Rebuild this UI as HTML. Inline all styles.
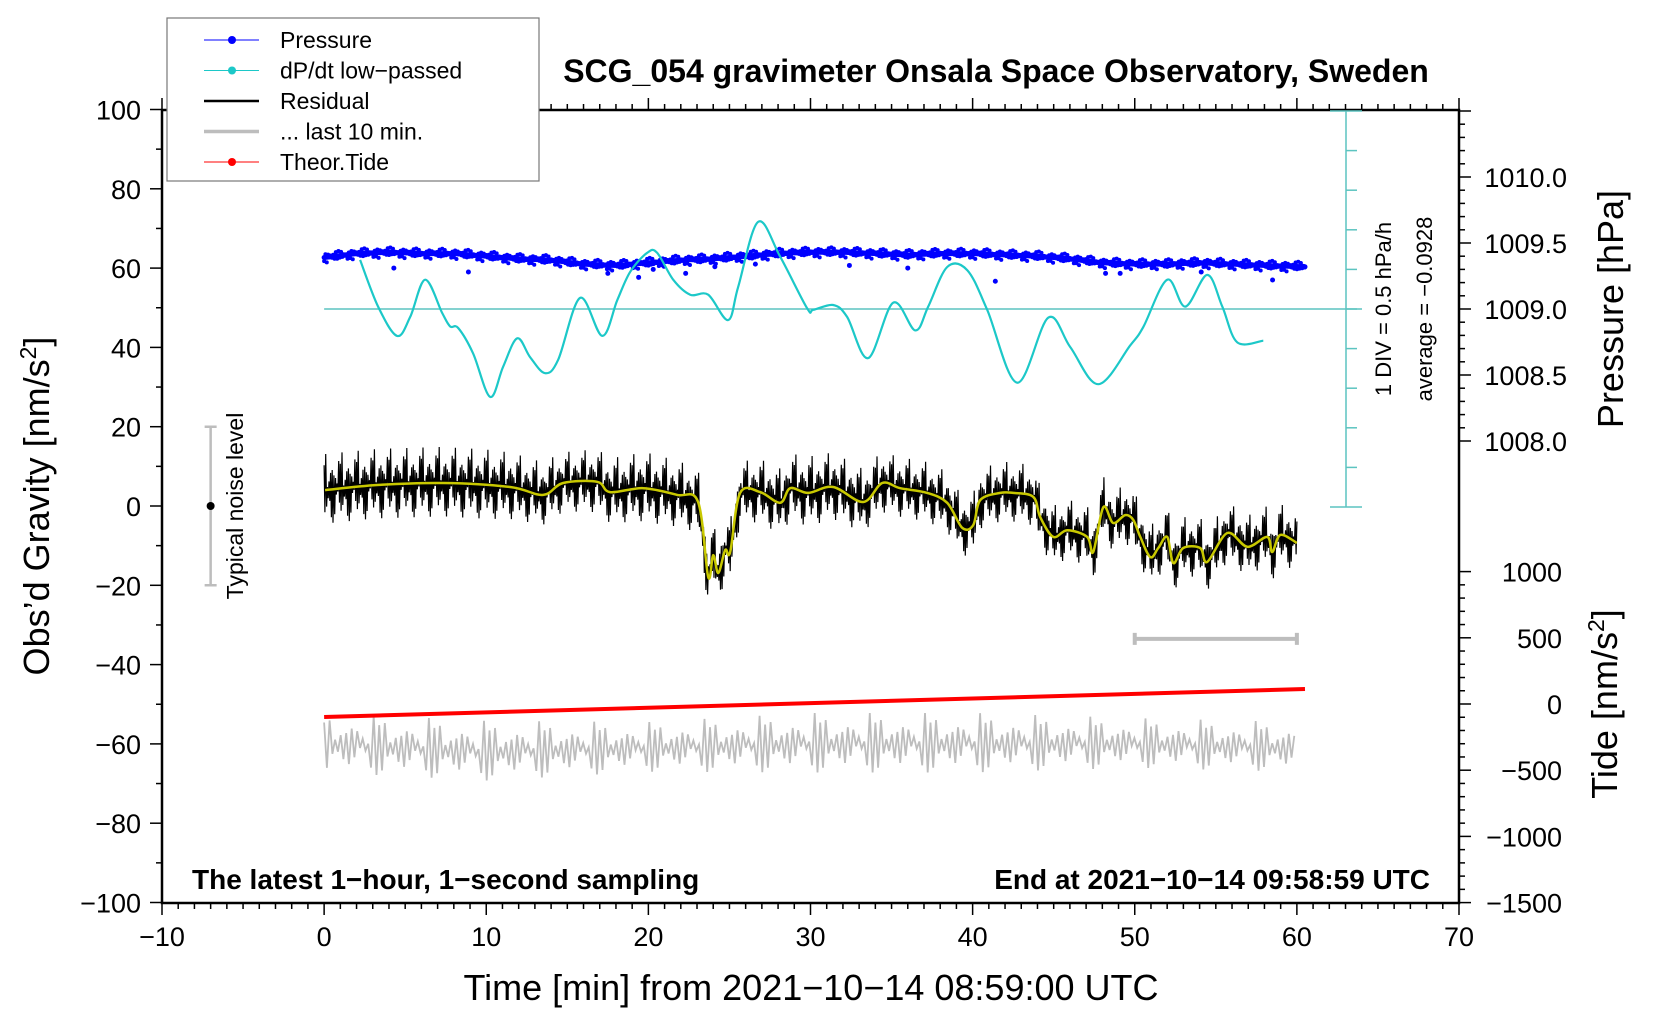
<!DOCTYPE html>
<html><head><meta charset="utf-8"><style>
html,body{margin:0;padding:0;background:#fff;}
svg{display:block;font-family:"Liberation Sans",sans-serif;}
</style></head><body>
<svg id="chart" width="1660" height="1020" viewBox="0 0 1660 1020" xmlns="http://www.w3.org/2000/svg"></svg>
<script>
// ---- data ----
const cyanT = [2.22,3.33,4.50,5.31,6.23,7.28,7.77,8.27,9.19,10.24,11.04,11.91,12.71,13.63,14.44,15.79,17.15,18.08,18.88,19.93,20.54,21.53,22.58,23.69,24.92,25.54,26.77,28.13,29.79,30.17,31.40,32.26,33.56,35.10,36.46,37.26,38.43,39.67,40.90,42.75,44.66,46.02,47.75,49.72,50.52,52.00,53.12,54.47,55.40,56.32,57.93];
const cyanV = [0.62,0.03,-0.34,-0.10,0.37,-0.05,-0.22,-0.24,-0.56,-1.11,-0.73,-0.37,-0.61,-0.81,-0.64,0.14,-0.34,0.11,0.47,0.71,0.71,0.37,0.18,0.18,-0.14,0.28,1.10,0.66,0.01,-0.01,0.05,-0.10,-0.62,0.08,-0.27,0.03,0.53,0.49,-0.01,-0.93,-0.11,-0.48,-0.95,-0.46,-0.23,0.37,0.03,0.43,0.03,-0.42,-0.40];
const presT = [0,2,4,6,8,10,12,14,16,18,20,22,24,26,28,30,32,34,36,38,40,42,44,46,48,50,52,54,56,58,60.5];
const presV = [1009.39,1009.42,1009.43,1009.42,1009.42,1009.40,1009.38,1009.37,1009.34,1009.33,1009.35,1009.37,1009.38,1009.40,1009.42,1009.43,1009.43,1009.42,1009.41,1009.42,1009.42,1009.41,1009.40,1009.38,1009.35,1009.34,1009.34,1009.35,1009.34,1009.33,1009.32];
const outT = [4.3,8.9,17.5,19.4,20.3,22.3,24.1,26.6,32.4,36.0,41.4,48.2,49.1,54.1,58.5];
const outV = [1009.31,1009.28,1009.27,1009.24,1009.30,1009.27,1009.32,1009.34,1009.33,1009.31,1009.21,1009.27,1009.27,1009.28,1009.22];
const resT = [0.06,3.27,7.34,11.47,13.51,14.74,16.84,17.64,19.68,21.78,23.07,23.69,24.0,24.31,24.74,25.05,25.66,26.9,28.13,28.75,29.86,31.4,33.25,34.42,35.53,37.2,38.43,39.36,40.04,40.47,41.7,42.5,43.74,44.17,44.97,45.84,47.07,47.44,48.06,48.67,49.41,49.91,50.34,50.96,51.45,52.0,52.38,52.99,54.04,54.47,55.71,56.94,58.17,58.48,58.98,60.0];
const resV = [4.0,5.3,5.8,4.8,2.8,5.8,6.1,3.5,4.5,2.8,1.0,-17.9,-12.4,-16.9,-11.1,-11.6,3.3,3.5,0.8,4.5,3.3,4.8,1.0,5.8,4.5,3.3,0.8,-5.5,-4.8,1.5,3.3,3.3,2.3,-2.8,-7.8,-6.1,-7.8,-11.6,-0.3,-4.3,-2.3,-3.5,-7.8,-12.9,-10.6,-7.8,-14.4,-10.6,-10.6,-14.1,-6.8,-10.3,-7.8,-11.6,-7.3,-9.3];
const noiseT = [0,5,10,15,20,25,30,35,40,45,50,55,60];
const noiseAmp = [7,7,7,6,7,6,7,6,6,6,6,6,6];
const grayT = [0,10,20,30,40,50,60];
const grayV = [-60,-62,-61,-60,-60,-60,-61];
const grayAmp = [6,6,5,6,6,5,5];
const tideT = [0,60.5];
const tideV = [-98,113];
const xTicks = [-10,0,10,20,30,40,50,60,70];
const yTicks = [100,80,60,40,20,0,-20,-40,-60,-80,-100];
const pTicks = ["1010.0","1009.5","1009.0","1008.5","1008.0"];
const tTicks = ["1000","500","0","\u2212500","\u22121000","\u22121500"];
const tTickV = [1000,500,0,-500,-1000,-1500];
const pattern = [0.9,-0.6,0.3,-1.0,0.5,-0.2,1.0,-0.8,0.1,-0.4,0.7,-0.9,0.2,-0.5,1.3,-0.3,0.6,-1.2,0.4,-0.1];

// ---- axes ----
const X0=162, X1=1459, Y0=110, Y1=903;
const xs = t => X0 + (t+10)*(X1-X0)/80;
const ys = v => 506 - v*3.965;
const yp = p => 177 + (1010-p)*132;
const yt = v => 704 - v*0.1324;
const ydp = v => 309 - v*79.2;
const svg = document.getElementById('chart');
const NS='http://www.w3.org/2000/svg';
function mk(tag, attrs, parent){const e=document.createElementNS(NS,tag);for(const k in attrs)e.setAttribute(k,attrs[k]);(parent||svg).appendChild(e);return e;}
function interp(T,V,t){if(t<=T[0])return V[0];for(let i=1;i<T.length;i++){if(t<=T[i]){const f=(t-T[i-1])/(T[i]-T[i-1]);return V[i-1]+f*(V[i]-V[i-1]);}}return V[V.length-1];}
function smooth(pts){let d='M'+pts[0][0].toFixed(1)+','+pts[0][1].toFixed(1);for(let i=0;i<pts.length-1;i++){const p0=pts[Math.max(0,i-1)],p1=pts[i],p2=pts[i+1],p3=pts[Math.min(pts.length-1,i+2)];const c1=[p1[0]+(p2[0]-p0[0])/6,p1[1]+(p2[1]-p0[1])/6],c2=[p2[0]-(p3[0]-p1[0])/6,p2[1]-(p3[1]-p1[1])/6];d+='C'+c1[0].toFixed(1)+','+c1[1].toFixed(1)+' '+c2[0].toFixed(1)+','+c2[1].toFixed(1)+' '+p2[0].toFixed(1)+','+p2[1].toFixed(1);}return d;}

let el;
el=mk('rect',{x:X0,y:Y0,width:X1-X0,height:Y1-Y0,fill:'none',stroke:'#000','stroke-width':2.5});


for(let t=-10;t<=70;t++){const major=t%10===0;
 el=mk('line',{x1:xs(t),x2:xs(t),y1:Y1,y2:Y1+(major?12:6),stroke:'#000','stroke-width':1.5});
 
 
 el=mk('line',{x1:xs(t),x2:xs(t),y1:Y0,y2:Y0-(major?12:6),stroke:'#000','stroke-width':1.5});
 
 }
xTicks.forEach(t=>{el=mk('text',{x:xs(t),y:946,'font-size':27,'text-anchor':'middle'});el.textContent=(t<0?'\u2212'+(-t):String(t));
 
 });
for(let v=-100;v<=100;v+=10){const major=v%20===0;
 el=mk('line',{x1:X0,x2:X0-(major?12:6),y1:ys(v),y2:ys(v),stroke:'#000','stroke-width':1.5});
 
 }
yTicks.forEach(v=>{el=mk('text',{x:141,y:ys(v)+10,'font-size':27,'text-anchor':'end'});el.textContent=(v<0?'\u2212'+(-v):String(v));
 
 });
for(let k=0;k<=26;k++){const p=1010.6-k*0.1;const y=yp(p);if(y<Y0||y>545)continue;const major=Math.abs(Math.round(p*2)-p*2)<0.01;
 el=mk('line',{x1:X1,x2:X1+(major?12:6),y1:y,y2:y,stroke:'#000','stroke-width':1.5});
 
 }
pTicks.forEach(s=>{el=mk('text',{x:1567,y:yp(parseFloat(s))+10,'font-size':27,'text-anchor':'end'});el.textContent=s;
 
 });
for(let v=1300;v>=-1500;v-=100){const y=yt(v);if(y<560||y>Y1)continue;const major=v%500===0;
 el=mk('line',{x1:X1,x2:X1+(major?12:6),y1:y,y2:y,stroke:'#000','stroke-width':1.5});
 
 }
tTicks.forEach((s,i)=>{el=mk('text',{x:1562,y:yt(tTickV[i])+10,'font-size':27,'text-anchor':'end'});el.textContent=s;
 
 });

el=mk('line',{x1:xs(0),x2:1362,y1:ydp(0),y2:ydp(0),stroke:'#5cc4c0','stroke-width':1.5});


el=mk('line',{x1:1346,x2:1346,y1:ydp(2.5),y2:ydp(-2.5),stroke:'#5cc4c0','stroke-width':1.5});


for(let k=-5;k<=5;k++){const end=Math.abs(k)===5;
 el=mk('line',{x1:end?1330:1346,x2:end?1362:1357,y1:ydp(k*0.5),y2:ydp(k*0.5),stroke:'#5cc4c0','stroke-width':1.5});
 
 }
el=mk('text',{x:0,y:0,'font-size':22,'text-anchor':'middle',transform:'translate(1391,309) rotate(-90)'});el.textContent='1 DIV = 0.5 hPa/h';


el=mk('text',{x:0,y:0,'font-size':22,'text-anchor':'middle',transform:'translate(1432,309) rotate(-90)'});el.textContent='average = \u22120.0928';



let pp=[];for(let t=0;t<=60.5;t+=0.5)pp.push([xs(t),yp(interp(presT,presV,t))]);
el=mk('path',{d:smooth(pp),fill:'none',stroke:'#0000ff','stroke-width':5,'stroke-linecap':'round'});


let d='';for(let i=0,t=0;t<=60.5;t+=0.08,i++){const y=yp(interp(presT,presV,t))+pattern[(i*7)%pattern.length]*4;d+='M'+xs(t).toFixed(1)+','+y.toFixed(1)+'h0.1';}
el=mk('path',{d:d,fill:'none',stroke:'#0000ff','stroke-width':4,'stroke-linecap':'round'});


outT.forEach((t,i)=>{el=mk('circle',{cx:xs(t),cy:yp(outV[i]),r:2.5,fill:'#0000ff'});
 
 });

el=mk('path',{d:smooth(cyanT.map((t,i)=>[xs(t),ydp(cyanV[i])])),fill:'none',stroke:'#1cc8c8','stroke-width':2.2});



d='';for(let i=0,t=0;t<=60;t+=0.05,i++){const v=interp(resT,resV,t)+pattern[(i*7)%pattern.length]*interp(noiseT,noiseAmp,t);d+=(i?'L':'M')+xs(t).toFixed(1)+','+ys(v).toFixed(1);}
el=mk('path',{d:d,fill:'none',stroke:'#000','stroke-width':1.2});


el=mk('path',{d:smooth(resT.map((t,i)=>[xs(t),ys(resV[i])])),fill:'none',stroke:'#c8c800','stroke-width':2.5});



d='';for(let i=0,t=0;t<=60;t+=0.17,i++){const v=interp(grayT,grayV,t)+pattern[(i*3)%pattern.length]*interp(grayT,grayAmp,t);d+=(i?'L':'M')+xs(t).toFixed(1)+','+ys(v).toFixed(1);}
el=mk('path',{d:d,fill:'none',stroke:'#bdbdbd','stroke-width':1.8});


el=mk('path',{d:`M${xs(50)},${ys(-33.5)}H${xs(60)}M${xs(50)},${ys(-33.5)-6}v12M${xs(60)},${ys(-33.5)-6}v12`,fill:'none',stroke:'#bdbdbd','stroke-width':4});



el=mk('line',{x1:xs(tideT[0]),y1:yt(tideV[0]),x2:xs(tideT[1]),y2:yt(tideV[1]),stroke:'#ff0000','stroke-width':4});



el=mk('path',{d:`M${xs(-7)},${ys(20)}V${ys(-20)}M${xs(-7)-6},${ys(20)}h12M${xs(-7)-6},${ys(-20)}h12`,fill:'none',stroke:'#bdbdbd','stroke-width':2.5});


el=mk('circle',{cx:xs(-7),cy:ys(0),r:4,fill:'#000'});


el=mk('text',{x:0,y:0,'font-size':23,'text-anchor':'middle',transform:'translate(243,506) rotate(-90)'});el.textContent='Typical noise level';



el=mk('text',{x:996,y:82,'font-size':32,'font-weight':'bold','text-anchor':'middle'});el.textContent='SCG_054 gravimeter Onsala Space Observatory, Sweden';


el=mk('text',{x:192,y:889,'font-size':28,'font-weight':'bold'});el.textContent='The latest 1\u2212hour, 1\u2212second sampling';


el=mk('text',{x:1430,y:889,'font-size':28,'font-weight':'bold','text-anchor':'end'});el.textContent='End at 2021\u221210\u221214 09:58:59 UTC';


el=mk('text',{x:811,y:1000,'font-size':36,'text-anchor':'middle'});el.textContent='Time [min] from 2021\u221210\u221214 08:59:00 UTC';


el=mk('text',{x:0,y:0,'font-size':36,'text-anchor':'middle',transform:'translate(49,506) rotate(-90)'});
el.innerHTML='Obs\u2019d Gravity [nm/s<tspan dy="-13" font-size="23">2</tspan><tspan dy="13">]</tspan>';


el=mk('text',{x:0,y:0,'font-size':36,'text-anchor':'middle',transform:'translate(1623,309) rotate(-90)'});el.textContent='Pressure [hPa]';


el=mk('text',{x:0,y:0,'font-size':36,'text-anchor':'middle',transform:'translate(1617,704) rotate(-90)'});
el.innerHTML='Tide [nm/s<tspan dy="-13" font-size="23">2</tspan><tspan dy="13">]</tspan>';



const lg=mk('g',{});


el=mk('rect',{x:167,y:18,width:372,height:163,fill:'#fff',stroke:'#777','stroke-width':1.2},lg);


const legNames=['Pressure','dP/dt low\u2212passed','Residual','... last 10 min.','Theor.Tide'];
const legColors=['#0000ff','#1cc8c8','#000','#bdbdbd','#ff0000'];
const legDot=[true,true,false,false,true];
legNames.forEach((n,i)=>{const y=40+i*30.5;
 const g=mk('g',{},lg);
 
 
 mk('line',{x1:204,x2:259,y1:y,y2:y,stroke:legColors[i],'stroke-width':legDot[i]?1:(i===3?3.5:2.5)},g);
 if(legDot[i])mk('circle',{cx:232,cy:y,r:4,fill:legColors[i]},g);
 const tx=mk('text',{x:280,y:y+8,'font-size':23},g);tx.textContent=n;});
</script>
</body></html>
